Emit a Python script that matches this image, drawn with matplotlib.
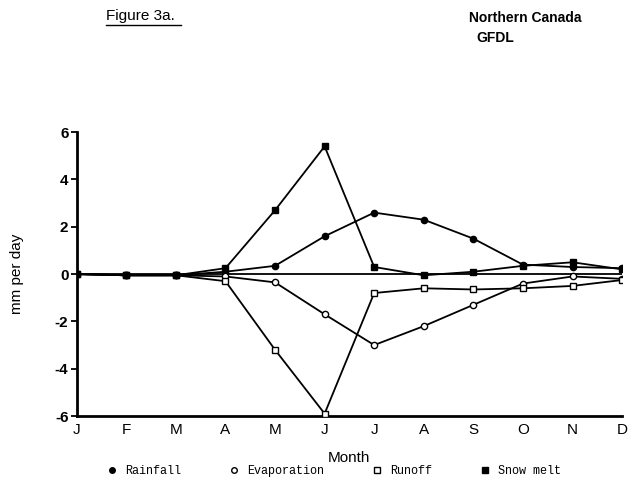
import matplotlib.pyplot as plt
from matplotlib.lines import Line2D

# monthly water budget terms, mm per day
months = ["J", "F", "M", "A", "M", "J", "J", "A", "S", "O", "N", "D"]
rainfall = [0.0, -0.05, -0.05, 0.1, 0.35, 1.6, 2.6, 2.3, 1.5, 0.4, 0.3, 0.25]
evaporation = [0.0, -0.05, -0.05, -0.1, -0.35, -1.7, -3.0, -2.2, -1.3, -0.4, -0.1, -0.2]
runoff = [0.0, -0.05, -0.05, -0.3, -3.2, -5.9, -0.8, -0.6, -0.65, -0.6, -0.5, -0.25]
snow_melt = [0.0, -0.05, -0.05, 0.25, 2.7, 5.4, 0.3, -0.05, 0.1, 0.35, 0.5, 0.2]

plt.rcParams['font.family'] = ['Liberation Sans', 'DejaVu Sans']

fig = plt.figure(figsize=(6.29, 4.86), dpi=100)
ax = fig.add_axes([0.122, 0.144, 0.867, 0.584])

x = list(range(len(months)))
ax.axhline(0, color="black", lw=1.3, zorder=1)

style = dict(color="black", lw=1.3, markersize=4.5, markeredgewidth=1.0, zorder=3)
ax.plot(x, rainfall, marker="o", mfc="black", **style)
ax.plot(x, evaporation, marker="o", mfc="white", **style)
ax.plot(x, runoff, marker="s", mfc="white", **style)
ax.plot(x, snow_melt, marker="s", mfc="black", **style)

ax.set_xlim(0, 11)
ax.set_ylim(-6, 6)
ax.set_xticks(x)
ax.set_xticklabels(months, fontsize=11)
ax.set_yticks([-6, -4, -2, 0, 2, 4, 6])
ax.set_yticklabels(["-6", "-4", "-2", "0", "2", "4", "6"], fontsize=11, fontweight="bold")
ax.tick_params(axis="y", length=4, width=1.3, pad=2)
ax.tick_params(axis="x", length=0, pad=5)

for side in ("top", "right"):
    ax.spines[side].set_visible(False)
ax.spines["left"].set_linewidth(2.0)
ax.spines["bottom"].set_linewidth(2.0)

ax.set_ylabel("mm per day", fontsize=11, labelpad=22)
ax.set_xlabel("Month", fontsize=11, labelpad=10)

handles = [
    Line2D([], [], ls="none", marker="o", mfc="black", mec="black", markersize=4),
    Line2D([], [], ls="none", marker="o", mfc="white", mec="black", markersize=4),
    Line2D([], [], ls="none", marker="s", mfc="white", mec="black", markersize=4),
    Line2D([], [], ls="none", marker="s", mfc="black", mec="black", markersize=4),
]
fig.legend(handles, ["Rainfall", "Evaporation", "Runoff", "Snow melt"],
           loc="center", bbox_to_anchor=(0.53, 0.031), ncol=4, frameon=False,
           prop={"family": "Liberation Mono", "size": 8.5},
           handletextpad=0.6, columnspacing=4.0, handlelength=1.0)

fig.text(0.168, 0.968, "Figure 3a.", fontsize=11, ha="left", va="center")
fig.add_artist(Line2D([0.168, 0.288], [0.949, 0.949], color="black", lw=1.0))
fig.text(0.745, 0.962, "Northern Canada", fontsize=10, fontweight="bold", ha="left", va="center")
fig.text(0.757, 0.922, "GFDL", fontsize=10, fontweight="bold", ha="left", va="center")

fig.savefig("out.png", dpi=100)
